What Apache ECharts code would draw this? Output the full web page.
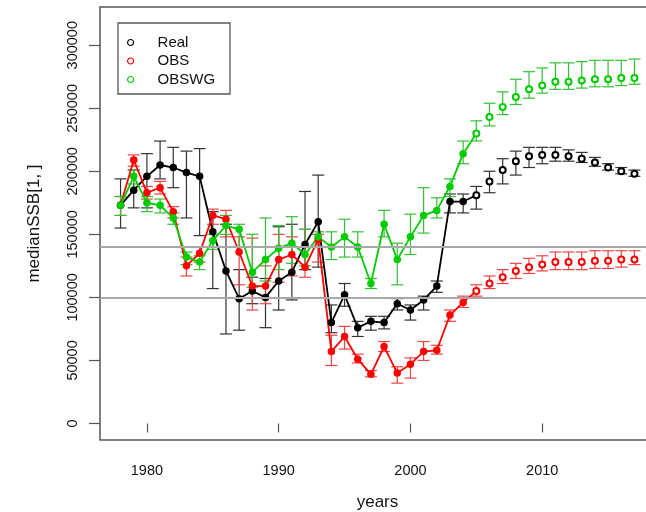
<!DOCTYPE html>
<html>
<head>
<meta charset="utf-8">
<script src="https://cdn.jsdelivr.net/npm/echarts@6/dist/echarts.min.js"></script>
<style>
html, body { margin: 0; padding: 0; background: #fff; }
#main { width: 646px; height: 512px; }
</style>
</head>
<body>
<div id="main"></div>
<script>
const years = [1978, 1979, 1980, 1981, 1982, 1983, 1984, 1985, 1986, 1987,
  1988, 1989, 1990, 1991, 1992, 1993, 1994, 1995, 1996, 1997,
  1998, 1999, 2000, 2001, 2002, 2003, 2004, 2005, 2006, 2007,
  2008, 2009, 2010, 2011, 2012, 2013, 2014, 2015, 2016, 2017]
// last year drawn with filled points (after that: projections, open points)
const lastObserved = 2004
// lines drawn up to this year
const lastLine = 2005

const real = [173000, 185000, 196000, 205000, 203000, 199000, 196000, 152000, 121000, 99000,
  105000, 100000, 113000, 120000, 142000, 160000, 80000, 102000, 76000, 81000,
  80000, 95000, 90000, 98000, 109000, 176000, 176000, 181000, 192000, 201000,
  208000, 212000, 213000, 213000, 212000, 210000, 207000, 203000, 200000, 198000]
const realLo = [155000, 171000, 171000, 194000, 187000, 163000, 149000, 107000, 71000, 74000,
  95000, 76000, 90000, 98000, 122000, 124000, 72000, 93000, 69000, 74000,
  75000, 90000, 82000, 90000, 104000, 167000, 167000, 170000, 183000, 190000,
  197000, 203000, 206000, 208000, 208000, 207000, 204000, 201000, 198000, 196000]
const realHi = [194000, 201000, 214000, 224000, 219000, 216000, 218000, 168000, 158000, 122000,
  116000, 115000, 156000, 158000, 184000, 197000, 94000, 111000, 81000, 85000,
  85000, 99000, 94000, 101000, 113000, 182000, 182000, 188000, 200000, 210000,
  216000, 219000, 219000, 219000, 217000, 215000, 211000, 206000, 203000, 201000]

const obs = [173000, 209000, 183000, 187000, 168000, 125000, 135000, 165000, 162000, 136000,
  109000, 109000, 130000, 134000, 124000, 146000, 57000, 69000, 51000, 39000,
  61000, 40000, 47000, 57000, 58000, 86000, 96000, 105000, 111000, 116000,
  121000, 124000, 126000, 128000, 128000, 128000, 129000, 129000, 130000, 130000]
const obsLo = [165000, 204000, 178000, 182000, 163000, 117000, 128000, 158000, 148000, 110000,
  90000, 95000, 112000, 117000, 116000, 128000, 46000, 59000, 48000, 37000,
  57000, 32000, 36000, 50000, 55000, 81000, 92000, 101000, 107000, 111000,
  115000, 119000, 121000, 122000, 122000, 122000, 123000, 123000, 124000, 126000]
const obsHi = [180000, 213000, 188000, 192000, 172000, 132000, 140000, 170000, 169000, 148000,
  147000, 125000, 150000, 148000, 154000, 150000, 70000, 77000, 55000, 42000,
  65000, 45000, 52000, 65000, 62000, 90000, 101000, 110000, 117000, 122000,
  127000, 131000, 133000, 136000, 136000, 136000, 137000, 137000, 137000, 137000]

const obswg = [173000, 196000, 175000, 173000, 163000, 132000, 128000, 145000, 157000, 154000,
  120000, 130000, 139000, 143000, 134000, 148000, 140000, 148000, 140000, 111000,
  158000, 130000, 148000, 165000, 169000, 188000, 214000, 230000, 243000, 251000,
  259000, 265000, 268000, 271000, 271000, 272000, 273000, 273000, 274000, 274000]
const obswgLo = [165000, 190000, 168000, 167000, 158000, 126000, 122000, 138000, 150000, 140000,
  108000, 113000, 122000, 127000, 125000, 140000, 130000, 132000, 132000, 107000,
  148000, 110000, 134000, 151000, 163000, 180000, 206000, 224000, 236000, 245000,
  253000, 258000, 262000, 265000, 265000, 266000, 267000, 267000, 268000, 269000]
const obswgHi = [180000, 201000, 180000, 178000, 167000, 136000, 133000, 150000, 165000, 158000,
  150000, 163000, 157000, 164000, 154000, 152000, 152000, 162000, 152000, 115000,
  169000, 143000, 166000, 187000, 179000, 194000, 224000, 240000, 254000, 263000,
  273000, 279000, 282000, 286000, 286000, 287000, 288000, 288000, 288000, 289000]

const refLines = [100000, 140000]
const xTicks = [1980, 1990, 2000, 2010]
const yTicks = [0, 50000, 100000, 150000, 200000, 250000, 300000]

const FONT = "'Liberation Sans', Arial, sans-serif"

function makeSeries(name, color, barColor, vals, lo, hi) {
  const pts = years.map((y, i) => [y, vals[i]])
  const bars = years.map((y, i) => [y, lo[i], hi[i]])
  return [
    {
      name: name,
      type: 'custom',
      z: 2,
      silent: true,
      data: bars,
      encode: { x: 0, y: [1, 2] },
      renderItem: function (params, api) {
        const x = api.value(0)
        const a = api.coord([x, api.value(1)])
        const b = api.coord([x, api.value(2)])
        const w = 6
        const st = () => ({ stroke: barColor, lineWidth: 1.2 })
        return {
          type: 'group',
          children: [
            { type: 'line', shape: { x1: a[0], y1: a[1], x2: b[0], y2: b[1] }, style: st() },
            { type: 'line', shape: { x1: a[0] - w, y1: a[1], x2: a[0] + w, y2: a[1] }, style: st() },
            { type: 'line', shape: { x1: b[0] - w, y1: b[1], x2: b[0] + w, y2: b[1] }, style: st() }
          ]
        }
      }
    },
    {
      name: name,
      type: 'line',
      z: 3,
      silent: true,
      showSymbol: false,
      data: pts.filter(p => p[0] <= lastLine),
      lineStyle: { color: color, width: 1.8 },
      itemStyle: { color: color }
    },
    {
      name: name,
      type: 'scatter',
      z: 4,
      silent: true,
      symbol: 'circle',
      symbolSize: 7.5,
      data: pts.filter(p => p[0] <= lastObserved),
      itemStyle: { color: color, opacity: 1 }
    },
    {
      name: name,
      type: 'scatter',
      z: 4,
      silent: true,
      symbol: 'emptyCircle',
      symbolSize: 6,
      data: pts.filter(p => p[0] > lastObserved),
      itemStyle: { color: color, borderColor: color, borderWidth: 1.6, opacity: 1 }
    }
  ]
}

const myChart = echarts.init(document.getElementById('main'), null, { renderer: 'canvas' })

const seriesList = [
  {
    name: 'ref',
    type: 'line',
    z: 1,
    silent: true,
    data: [],
    markLine: {
      silent: true,
      symbol: ['none', 'none'],
      label: { show: false },
      lineStyle: { color: '#a8a8a8', width: 2, type: 'solid' },
      data: refLines.map(v => ({ yAxis: v }))
    }
  }
]
  .concat(makeSeries('Real', '#000000', '#333333', real, realLo, realHi))
  .concat(makeSeries('OBS', '#ff0000', '#ee4444', obs, obsLo, obsHi))
  .concat(makeSeries('OBSWG', '#00cd00', '#33c033', obswg, obswgLo, obswgHi))

const option = {
  animation: false,
  backgroundColor: '#fff',
  textStyle: { fontFamily: FONT },
  grid: {
    left: 100,
    top: 7,
    width: 555,
    height: 433,
    outerBoundsMode: 'none',
    containLabel: false,
    show: true,
    borderColor: '#555',
    borderWidth: 1.5,
    backgroundColor: 'transparent'
  },
  graphic: [
    {
      type: 'rect',
      z: 10,
      shape: { x: 118, y: 23, width: 112, height: 71 },
      style: { fill: '#fff', stroke: '#555', lineWidth: 1.3 }
    }
  ],
  legend: {
    orient: 'vertical',
    left: 127,
    top: 35,
    padding: 0,
    z: 20,
    itemWidth: 6,
    itemHeight: 6,
    itemGap: 3.5,
    selectedMode: false,
    textStyle: { fontFamily: FONT, fontSize: 15, color: '#111', lineHeight: 15, padding: [0, 0, 0, 19] },
    data: [
      { name: 'Real', icon: 'circle', itemStyle: { color: '#fff', borderColor: '#000', borderWidth: 1.2 } },
      { name: 'OBS', icon: 'circle', itemStyle: { color: '#fff', borderColor: '#ff0000', borderWidth: 1.2 } },
      { name: 'OBSWG', icon: 'circle', itemStyle: { color: '#fff', borderColor: '#00cd00', borderWidth: 1.2 } }
    ]
  },
  xAxis: {
    type: 'value',
    min: 1976.44,
    max: 2018.56,
    name: 'years',
    nameLocation: 'middle',
    nameGap: 54,
    nameTextStyle: { fontFamily: FONT, fontSize: 17, color: '#111' },
    axisLine: { show: false },
    splitLine: { show: false },
    axisTick: { show: true, length: 9, customValues: xTicks, lineStyle: { color: '#555', width: 1.2 } },
    axisLabel: {
      customValues: xTicks,
      margin: 23,
      fontFamily: FONT,
      fontSize: 14.5,
      color: '#111',
      formatter: v => String(v)
    }
  },
  yAxis: {
    type: 'value',
    min: -13100,
    max: 330300,
    name: 'medianSSB[1, ]',
    nameLocation: 'middle',
    nameGap: 57,
    nameTextStyle: { fontFamily: FONT, fontSize: 17, color: '#111' },
    axisLine: { show: false },
    splitLine: { show: false },
    axisTick: { show: true, length: 11, customValues: yTicks, lineStyle: { color: '#555', width: 1.2 } },
    axisLabel: {
      customValues: yTicks,
      rotate: 90,
      margin: 20,
      fontFamily: FONT,
      fontSize: 14.5,
      color: '#111',
      formatter: v => String(v)
    }
  },
  series: seriesList
}

myChart.setOption(option)
</script>
</body>
</html>
